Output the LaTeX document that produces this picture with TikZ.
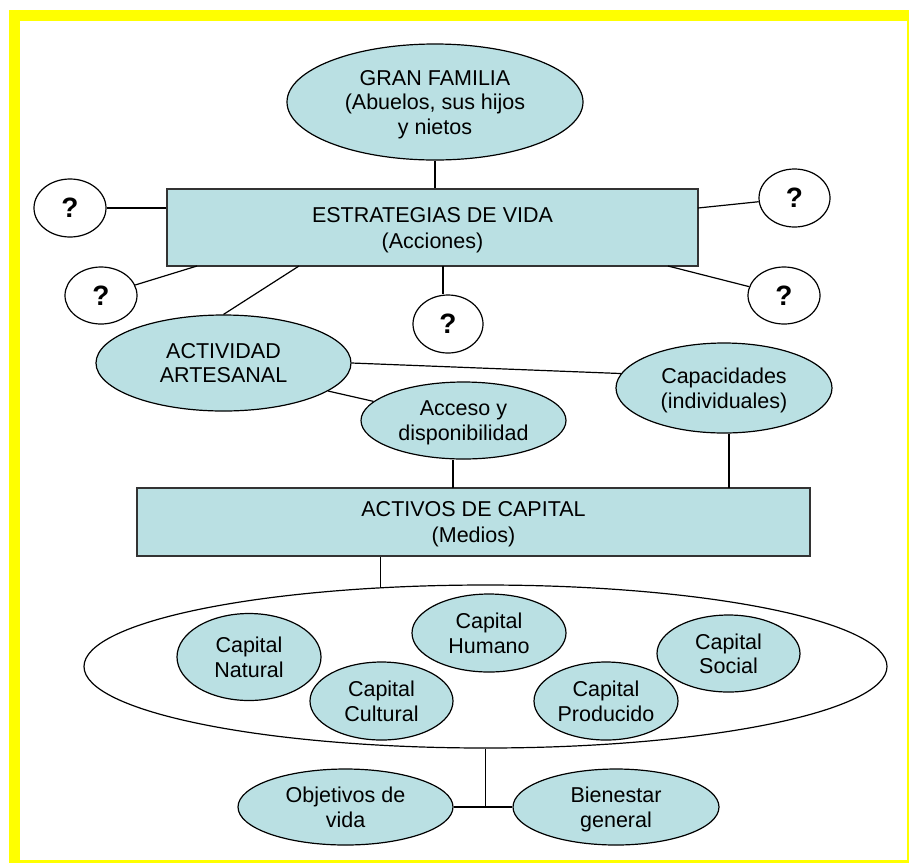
\documentclass[tikz,border=0pt]{standalone}
\usepackage{fontspec}
\setmainfont{Liberation Sans}
\usetikzlibrary{shapes.geometric}
\definecolor{nodefill}{RGB}{186,224,227}
\definecolor{frameyellow}{RGB}{255,255,0}
\begin{document}
\begin{tikzpicture}[x=1pt,y=-1pt,
  txt/.style={font=\fontsize{21.5}{24.5}\selectfont, align=center, inner sep=0pt, text depth=0pt},
  oval/.style={txt, ellipse, draw=black, line width=1.2pt, fill=nodefill},
  box/.style={txt, rectangle, draw=black!80, line width=1.2pt, fill=nodefill, font=\fontsize{21.5}{26}\selectfont},
  qmark/.style={ellipse, draw=black, line width=1.2pt, fill=white, inner sep=0pt, font=\fontsize{28}{30}\selectfont\bfseries},
  link/.style={line width=1.2pt, draw=black}
]
\useasboundingbox (0,0) rectangle (909,863);
\fill[frameyellow] (9,10) rectangle (909,863);
\fill[white] (20,21) rectangle (907,860);

% top part
\node[oval, minimum width=296pt, minimum height=116pt] (gran) at (435,102) {GRAN FAMILIA\\(Abuelos, sus hijos\\y nietos};
\node[box, minimum width=531pt, minimum height=77pt] (estr) at (432.5,227.5) {ESTRATEGIAS DE VIDA\\(Acciones)};

\node[qmark, minimum width=72pt, minimum height=58pt] (q1) at (70,208) {?};
\node[qmark, minimum width=72pt, minimum height=57pt] (q2) at (101,295.5) {?};
\node[qmark, minimum width=70pt, minimum height=58pt] (q3) at (448,324) {?};
\node[qmark, minimum width=71pt, minimum height=58pt] (q4) at (794.5,198) {?};
\node[qmark, minimum width=72pt, minimum height=57pt] (q5) at (784,295.5) {?};

\node[oval, minimum width=255pt, minimum height=96pt] (act) at (223.5,363) {ACTIVIDAD\\ARTESANAL};
\node[oval, minimum width=205pt, minimum height=77pt] (acc) at (463.5,420.5) {Acceso y\\disponibilidad};
\node[oval, minimum width=216pt, minimum height=90pt] (cap) at (724,388) {Capacidades\\(individuales)};

\node[box, minimum width=673pt, minimum height=68pt] (actv) at (473.5,522) {ACTIVOS DE CAPITAL\\(Medios)};

% capital group
\node[ellipse, draw=black, line width=1.2pt, fill=white, minimum width=803pt, minimum height=163pt] (big) at (485.5,666.5) {};
\node[oval, minimum width=144pt, minimum height=87pt] (nat) at (249,657) {Capital\\Natural};
\node[oval, minimum width=143pt, minimum height=78pt] (cul) at (381.5,701) {Capital\\Cultural};
\node[oval, minimum width=154pt, minimum height=78pt] (hum) at (489,633) {Capital\\Humano};
\node[oval, minimum width=144pt, minimum height=78pt] (pro) at (606,701) {Capital\\Producido};
\node[oval, minimum width=143pt, minimum height=77pt] (soc) at (728.5,653.5) {Capital\\Social};

\node[oval, minimum width=215pt, minimum height=76pt] (obj) at (345.5,807) {Objetivos de\\vida};
\node[oval, minimum width=206pt, minimum height=76pt] (bien) at (616,807) {Bienestar\\general};

% named connector points
\coordinate (e1) at (197,266);
\coordinate (e2) at (299,266);
\coordinate (e3) at (443,266);
\coordinate (e4) at (668,266);
\coordinate (e5) at (698,208);
\coordinate (a1) at (453,488);
\coordinate (c1) at (729,488);
\coordinate (jn) at (485.5,807);

% connectors
\draw[link] (gran.south) -- (gran.south |- estr.north);
\draw[link] (q1.east) -- (q1.east -| estr.west);
\draw[link] (e1) -- (q2);
\draw[link] (e2) -- (act.north);
\draw[link] (e3) -- (e3 |- q3.north);
\draw[link] (e5) -- (q4);
\draw[link] (e4) -- (q5);
\draw[link] (act.east) -- (cap.172);
\draw[link] (act.-15) -- (acc.168);
\draw[link] (a1) -- (a1 |- acc.south);
\draw[link] (c1) -- (c1 |- cap.south);
\draw[link] (big.143) -- (big.143 |- actv.south);
\draw[link] (big.south) -- (jn);
\draw[link] (obj.east) -- (bien.west);
\end{tikzpicture}
\end{document}
